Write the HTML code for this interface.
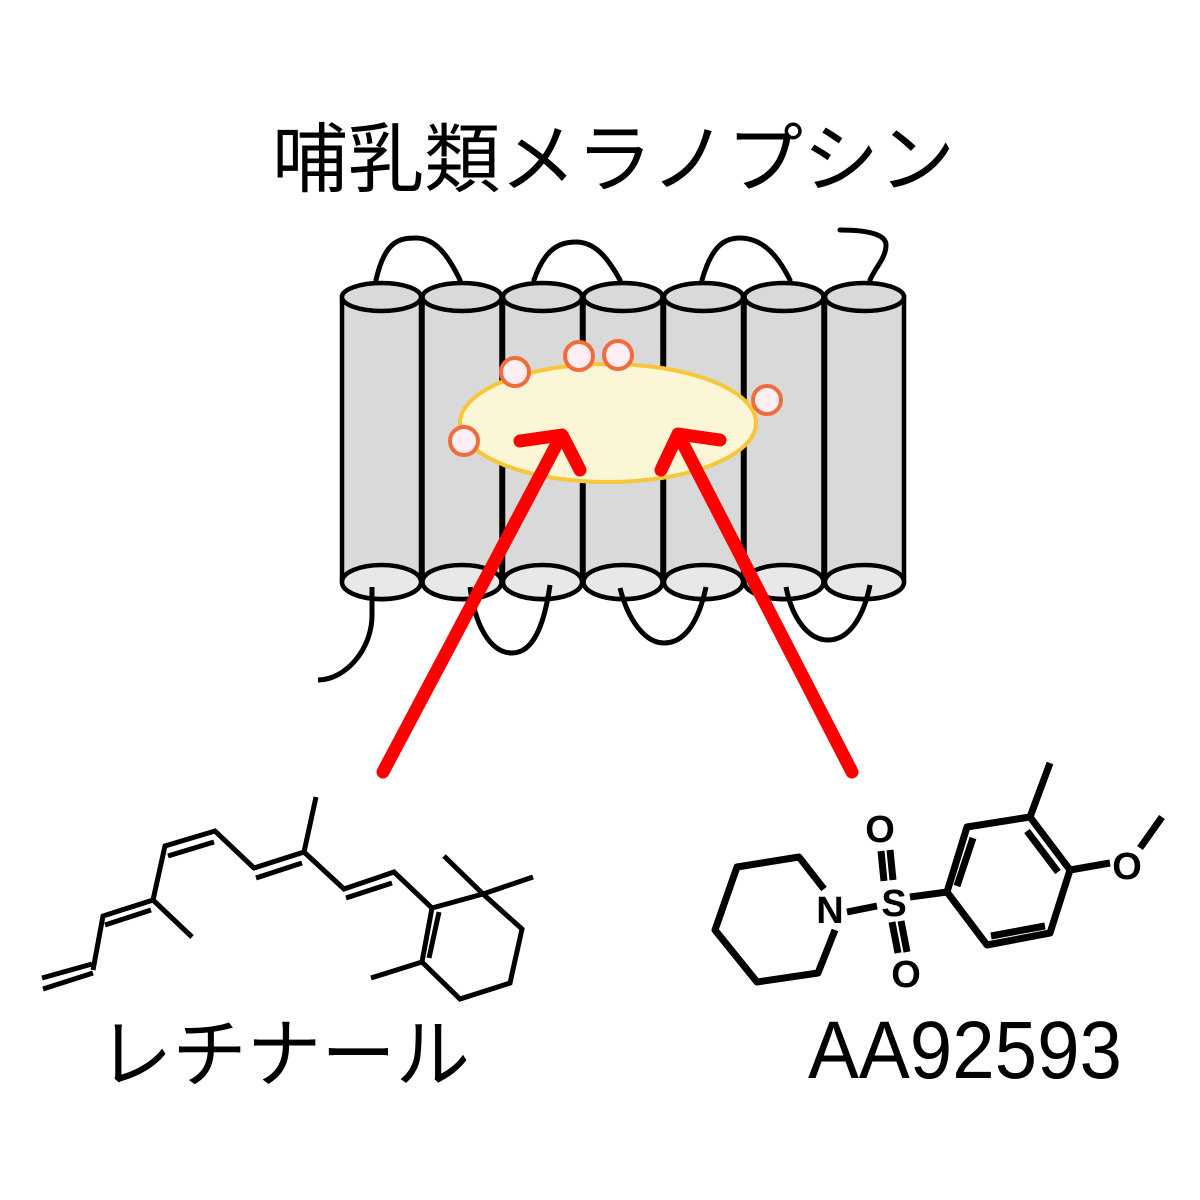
<!DOCTYPE html>
<html><head><meta charset="utf-8"><style>html,body{margin:0;padding:0;background:#fff}svg{display:block}</style></head>
<body>
<svg width="1200" height="1200" viewBox="0 0 1200 1200" xmlns="http://www.w3.org/2000/svg">
<text x="272" y="186" font-family="'Liberation Sans','Noto Sans CJK JP',sans-serif" font-size="76" textLength="683" lengthAdjust="spacingAndGlyphs">哺乳類メラノプシン</text>

<g fill="none" stroke="#000" stroke-width="5" stroke-linecap="round">
<path d="M376,280 C385,240 400,238 416,238 C435,238 448,255 460,280"/>
<path d="M534,280 C545,248 560,242 576,242 C595,242 608,258 620,280"/>
<path d="M702,280 C712,245 725,238 740,238 C765,238 780,260 790,280"/>
<path d="M840,230 C870,230 886,235 886,245 C886,258 875,268 870,280"/>
</g>

<g stroke="#000" stroke-width="4.5" fill="#d9d9d9">
<path d="M342,297 L342,582 A39,17 0 0 0 421,582 L421,297 Z"/>
<path d="M422.5,297 L422.5,582 A39,17 0 0 0 501.5,582 L501.5,297 Z"/>
<path d="M503,297 L503,582 A39,17 0 0 0 582,582 L582,297 Z"/>
<path d="M583.5,297 L583.5,582 A39,17 0 0 0 662.5,582 L662.5,297 Z"/>
<path d="M664,297 L664,582 A39,17 0 0 0 743,582 L743,297 Z"/>
<path d="M744.5,297 L744.5,582 A39,17 0 0 0 823.5,582 L823.5,297 Z"/>
<path d="M825,297 L825,582 A39,17 0 0 0 904,582 L904,297 Z"/>
<ellipse cx="381.5" cy="297" rx="39.5" ry="14"/>
<ellipse cx="462" cy="297" rx="39.5" ry="14"/>
<ellipse cx="542.5" cy="297" rx="39.5" ry="14"/>
<ellipse cx="623" cy="297" rx="39.5" ry="14"/>
<ellipse cx="703.5" cy="297" rx="39.5" ry="14"/>
<ellipse cx="784" cy="297" rx="39.5" ry="14"/>
<ellipse cx="864.5" cy="297" rx="39.5" ry="14"/>
<g fill="#e8e8e8">
<ellipse cx="381.5" cy="582" rx="39.5" ry="17"/>
<ellipse cx="462" cy="582" rx="39.5" ry="17"/>
<ellipse cx="542.5" cy="582" rx="39.5" ry="17"/>
<ellipse cx="623" cy="582" rx="39.5" ry="17"/>
<ellipse cx="703.5" cy="582" rx="39.5" ry="17"/>
<ellipse cx="784" cy="582" rx="39.5" ry="17"/>
<ellipse cx="864.5" cy="582" rx="39.5" ry="17"/>
</g>
</g>

<g fill="none" stroke="#000" stroke-width="5">
<path d="M372,587 L372,615 C372,650 345,680 318,680"/>
<path d="M470,587 C475,625 490,653 512,653 C535,653 545,620 550,585"/>
<path d="M620,588 C628,620 645,643 664,643 C688,643 700,615 706,587"/>
<path d="M786,587 C792,618 808,640 828,640 C850,640 864,615 870,585"/>
</g>

<ellipse cx="608" cy="423" rx="148" ry="59" fill="#faf6d6" stroke="#f8c63a" stroke-width="4"/>
<g fill="#fdeef3" stroke="#f26b3a" stroke-width="4">
<circle cx="515" cy="372" r="14"/>
<circle cx="579" cy="356" r="14"/>
<circle cx="618" cy="355" r="14"/>
<circle cx="767" cy="400" r="14"/>
<circle cx="464" cy="441" r="14"/>
</g>

<g fill="none" stroke="#f00" stroke-width="13" stroke-linecap="round" stroke-linejoin="round">
<path d="M383,772 L560,438"/>
<path d="M520,441 L562,435 L580,470"/>
<path d="M852,772 L680,438"/>
<path d="M661,470 L678,434 L720,440"/>
</g>

<!-- retinal -->
<g fill="none" stroke="#000" stroke-width="5" stroke-linecap="butt">
<path d="M92,964 L42,978 M93,973 L43,989"/>
<path d="M93,970 L103,916 L153,900 L165,846 L215,831 L254,868 L304,852 L316,797 M304,852 L344,889 L394,872 L432,908 L422,962 L371,978 M153,900 L192,937"/>
<path d="M105,925 L151,910 M168,856 L214,842 M256,878 L302,863 M346,898 L392,883 M439,912 L429,958"/>
<path d="M432,908 L483,894 L522,929 L510,983 L460,999 L422,962 M483,894 L444,856 M483,894 L533,877"/>
</g>

<!-- AA92593 -->
<g fill="none" stroke="#000" stroke-width="7" stroke-linejoin="round">
<path d="M824,889 L799,857 L737,867 L715,930 L757,982 L818,973 L835,930"/>
<path d="M847,912 L877,906"/>
<path d="M881,851 L884,881 M890,850 L893,880"/>
<path d="M892,922 L898,953 M901,921 L907,952"/>
<path d="M910,897 L947,892"/>
<path d="M947,892 L967,827 L1030,817 L1070,870 L1050,933 L987,945 Z"/>
<path d="M957,886 L973,838 M1027,831 L1058,872 M991,936 L1045,926"/>
<path d="M1030,817 L1050,763 M1070,870 L1110,863 M1140,848 L1162,817"/>
</g>
<g font-family="'Liberation Sans',sans-serif" font-size="38" text-anchor="middle" font-weight="bold">
<text x="830" y="923">N</text>
<text x="894" y="916">S</text>
<text x="880" y="842">O</text>
<text x="906" y="987">O</text>
<text x="1127" y="879">O</text>
</g>

<text x="98" y="1081" font-family="'Liberation Sans','Noto Sans CJK JP',sans-serif" font-size="76" textLength="372" lengthAdjust="spacingAndGlyphs">レチナール</text>
<text x="808" y="1078" font-family="'Liberation Sans',sans-serif" font-size="82" textLength="314" lengthAdjust="spacingAndGlyphs">AA92593</text>
</svg>
</body></html>
